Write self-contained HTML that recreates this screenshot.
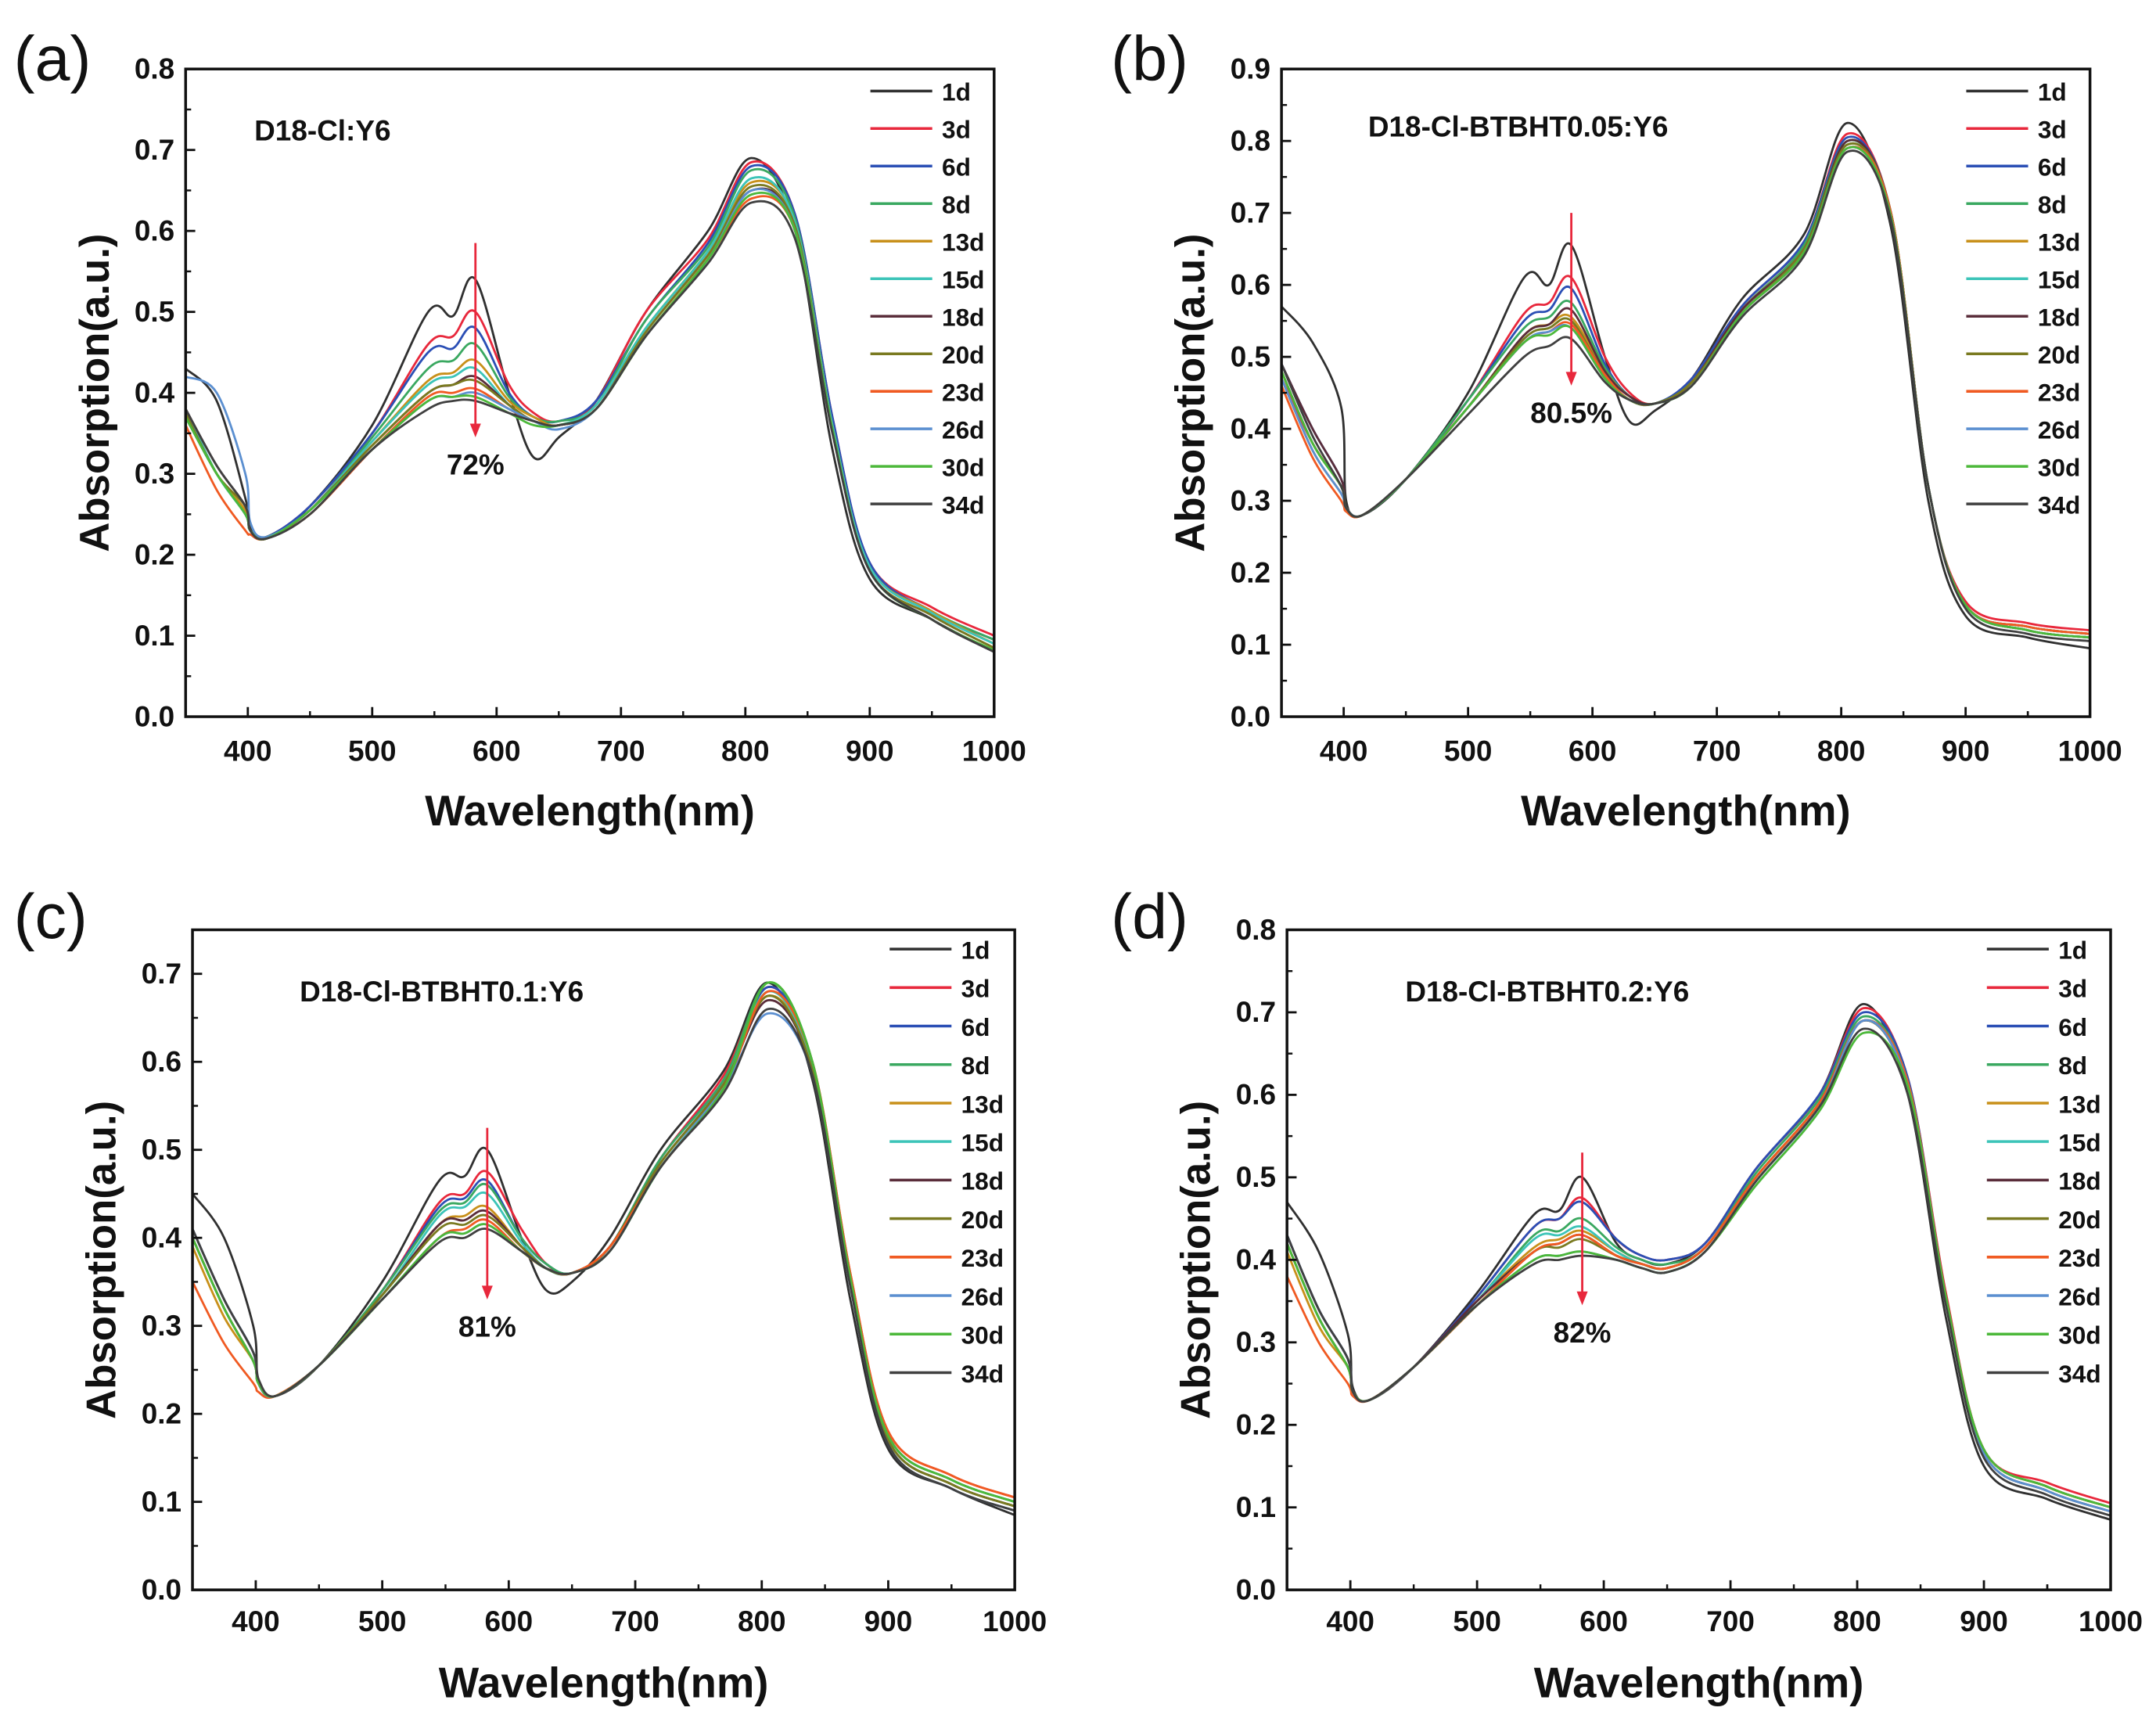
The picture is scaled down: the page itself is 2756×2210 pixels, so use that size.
<!DOCTYPE html>
<html><head><meta charset="utf-8"><style>
html,body{margin:0;padding:0;background:#fff}
svg{display:block}
text{font-family:"Liberation Sans",Arial,sans-serif}
</style></head><body>
<svg id="fig" width="2756" height="2210" viewBox="0 0 1568 1257" xmlns="http://www.w3.org/2000/svg"></svg>
<script>
const wavelengths=[350,375,398,402,415,450,500,545,565,583,610,630,650,680,720,770,805,840,870,900,950,1000];
const seriesNames=["1d","3d","6d","8d","13d","15d","18d","20d","23d","26d","30d","34d"];
const seriesColors=["#303030","#e8283c","#2b4fb5","#3aa860","#c8901a","#3cc4b8","#5a2d3a","#7a7a20","#f05a22","#5b8fd0","#4cb83a","#404040"];
const xTicks=[400,500,600,700,800,900,1000];
const dataA=[
[.43,.39,.27,.235,.222,.26,.36,.50,.495,.54,.40,.32,.345,.39,.50,.60,.69,.60,.33,.17,.12,.08],
[.37,.30,.25,.23,.222,.26,.35,.46,.47,.50,.41,.375,.365,.39,.50,.59,.685,.62,.37,.19,.135,.10],
[.37,.30,.25,.23,.222,.26,.35,.45,.455,.48,.40,.37,.365,.39,.49,.585,.68,.62,.37,.19,.13,.095],
[.37,.30,.25,.23,.222,.255,.345,.43,.44,.46,.395,.37,.365,.385,.49,.58,.675,.615,.36,.185,.13,.095],
[.38,.30,.255,.23,.22,.255,.34,.415,.425,.44,.39,.37,.36,.385,.48,.575,.66,.61,.36,.185,.13,.09],
[.38,.30,.25,.23,.22,.255,.34,.41,.42,.43,.385,.365,.36,.385,.48,.575,.665,.61,.36,.185,.128,.09],
[.38,.31,.26,.23,.22,.255,.335,.40,.41,.42,.385,.365,.36,.38,.475,.57,.65,.605,.355,.18,.125,.085],
[.375,.30,.26,.23,.22,.255,.335,.40,.41,.415,.385,.365,.36,.38,.475,.57,.655,.605,.355,.18,.125,.085],
[.36,.28,.23,.225,.22,.25,.33,.395,.40,.405,.38,.365,.36,.38,.47,.565,.64,.60,.355,.18,.12,.08],
[.42,.40,.30,.24,.222,.255,.33,.39,.395,.40,.38,.365,.355,.38,.47,.565,.65,.60,.355,.18,.12,.08],
[.37,.30,.25,.23,.22,.255,.33,.39,.395,.395,.375,.36,.36,.38,.47,.565,.645,.60,.355,.18,.12,.082],
[.38,.31,.26,.23,.22,.25,.33,.38,.39,.39,.375,.365,.36,.38,.47,.56,.635,.59,.35,.18,.12,.08]];
const dataB=[
[.57,.52,.43,.30,.28,.33,.45,.61,.60,.655,.50,.41,.425,.47,.58,.67,.825,.68,.30,.14,.11,.095],
[.47,.38,.32,.29,.28,.33,.44,.56,.575,.61,.50,.45,.435,.47,.57,.66,.81,.70,.32,.16,.13,.12],
[.49,.40,.33,.29,.28,.33,.44,.55,.565,.595,.49,.445,.435,.47,.57,.66,.805,.70,.32,.155,.125,.115],
[.48,.38,.32,.29,.28,.33,.44,.54,.555,.575,.485,.445,.435,.465,.565,.655,.80,.70,.32,.155,.125,.115],
[.47,.37,.31,.29,.28,.33,.43,.53,.545,.555,.48,.445,.435,.465,.565,.65,.795,.70,.32,.155,.125,.115],
[.48,.38,.32,.29,.28,.33,.43,.525,.54,.55,.475,.44,.435,.465,.56,.65,.795,.70,.32,.155,.125,.115],
[.49,.40,.33,.29,.28,.33,.43,.53,.545,.565,.48,.445,.435,.465,.565,.65,.80,.70,.32,.155,.12,.11],
[.48,.38,.32,.29,.28,.33,.43,.525,.54,.55,.475,.44,.435,.465,.56,.65,.795,.70,.32,.155,.12,.11],
[.46,.36,.30,.285,.28,.33,.43,.52,.535,.545,.475,.44,.435,.46,.56,.645,.79,.70,.32,.155,.125,.115],
[.47,.37,.31,.29,.28,.33,.43,.52,.535,.54,.47,.44,.435,.46,.56,.645,.79,.695,.32,.155,.12,.11],
[.48,.38,.32,.29,.28,.33,.43,.52,.53,.54,.47,.44,.435,.46,.56,.645,.79,.695,.32,.155,.12,.11],
[.49,.39,.32,.29,.28,.33,.42,.50,.515,.525,.465,.44,.435,.46,.555,.64,.785,.69,.32,.15,.115,.105]];
const dataC=[
[.45,.40,.30,.24,.22,.255,.35,.465,.47,.50,.40,.34,.35,.40,.50,.59,.69,.58,.33,.16,.115,.085],
[.40,.32,.26,.235,.22,.255,.34,.44,.45,.475,.41,.37,.36,.39,.49,.585,.685,.60,.36,.18,.13,.105],
[.40,.32,.26,.235,.22,.255,.34,.435,.445,.465,.40,.37,.36,.39,.49,.58,.685,.60,.355,.175,.125,.10],
[.40,.32,.26,.235,.22,.255,.34,.43,.44,.46,.40,.37,.36,.39,.49,.58,.69,.60,.355,.175,.125,.10],
[.39,.31,.26,.235,.22,.255,.335,.415,.425,.435,.39,.365,.36,.39,.485,.575,.675,.595,.35,.17,.12,.095],
[.40,.32,.26,.235,.22,.255,.335,.425,.435,.45,.395,.365,.36,.39,.485,.575,.68,.595,.35,.17,.12,.095],
[.41,.33,.27,.235,.22,.255,.335,.415,.42,.43,.39,.365,.36,.39,.485,.575,.67,.59,.35,.17,.12,.095],
[.40,.32,.26,.235,.22,.255,.335,.41,.415,.425,.39,.365,.36,.39,.485,.575,.675,.59,.35,.17,.12,.095],
[.35,.28,.235,.225,.22,.255,.33,.40,.41,.42,.385,.365,.36,.39,.48,.57,.68,.60,.36,.18,.13,.105],
[.41,.33,.27,.235,.22,.255,.33,.40,.405,.415,.385,.365,.36,.385,.48,.57,.655,.585,.345,.165,.115,.09],
[.40,.32,.26,.235,.22,.255,.33,.40,.405,.415,.385,.365,.36,.385,.48,.57,.69,.60,.355,.175,.125,.10],
[.41,.33,.27,.24,.22,.255,.33,.395,.40,.41,.385,.365,.36,.385,.48,.565,.66,.585,.345,.165,.115,.09]];
const dataD=[
[.47,.41,.31,.245,.23,.27,.36,.455,.46,.50,.42,.40,.395,.42,.51,.60,.71,.60,.33,.15,.11,.085],
[.42,.33,.27,.24,.23,.27,.355,.44,.45,.475,.425,.405,.40,.42,.51,.60,.705,.62,.36,.17,.13,.105],
[.43,.34,.28,.24,.23,.27,.355,.44,.45,.47,.425,.405,.40,.42,.51,.60,.70,.62,.355,.17,.125,.10],
[.42,.33,.27,.24,.23,.27,.35,.43,.435,.45,.415,.40,.395,.415,.505,.595,.695,.615,.355,.17,.125,.10],
[.41,.32,.27,.24,.23,.27,.35,.415,.425,.435,.41,.395,.39,.415,.50,.59,.69,.615,.355,.17,.125,.10],
[.42,.33,.27,.24,.23,.27,.35,.425,.43,.44,.41,.395,.39,.415,.50,.59,.69,.615,.355,.17,.125,.10],
[.43,.34,.28,.24,.23,.27,.35,.41,.42,.43,.405,.395,.39,.415,.50,.59,.69,.61,.35,.165,.12,.095],
[.42,.33,.27,.24,.23,.27,.345,.41,.415,.425,.405,.395,.39,.415,.50,.59,.69,.61,.35,.165,.12,.095],
[.38,.30,.25,.235,.23,.27,.345,.41,.42,.43,.405,.395,.39,.415,.50,.59,.69,.615,.355,.17,.125,.10],
[.43,.34,.28,.24,.23,.27,.345,.40,.405,.41,.40,.39,.385,.41,.495,.585,.69,.61,.35,.165,.12,.095],
[.42,.33,.27,.24,.23,.27,.345,.40,.405,.41,.40,.39,.385,.41,.49,.58,.675,.61,.355,.17,.125,.10],
[.43,.34,.28,.24,.23,.27,.345,.395,.40,.405,.40,.39,.385,.41,.495,.585,.68,.60,.345,.16,.115,.09]];
const panelLabels=["(a)","(b)","(c)","(d)"];
const panelTitles=["D18-Cl:Y6","D18-Cl-BTBHT0.05:Y6","D18-Cl-BTBHT0.1:Y6","D18-Cl-BTBHT0.2:Y6"];
const percentLabels=["72%","80.5%","81%","82%"];
const yMaxes=[0.8,0.9,0.75,0.8];
const yTickSets=[[0,.1,.2,.3,.4,.5,.6,.7,.8],[0,.1,.2,.3,.4,.5,.6,.7,.8,.9],[0,.1,.2,.3,.4,.5,.6,.7],[0,.1,.2,.3,.4,.5,.6,.7,.8]];
const arrowTops=[0.585,0.70,0.525,0.53];
const arrowBottoms=[0.345,0.46,0.33,0.345];

const NS="http://www.w3.org/2000/svg";
const svg=document.getElementById('fig');
function el(tag,attrs,parent,txt){const e=document.createElementNS(NS,tag);for(const k in attrs)e.setAttribute(k,attrs[k]);if(txt!==undefined)e.textContent=txt;(parent||svg).appendChild(e);return e;}

const layouts=[
 {x0:135,x1:723,y0:50,y1:521,lx:10,ly:58,tx:185,ty:102,legX:633,legY:66,legDy:27.3,xtY:553,xlY:600},
 {x0:932,x1:1520,y0:50,y1:521,lx:808,ly:58,tx:995,ty:99,legX:1430,legY:66,legDy:27.3,xtY:553,xlY:600},
 {x0:140,x1:738,y0:676,y1:1156,lx:10,ly:682,tx:218,ty:728,legX:647,legY:690,legDy:28,xtY:1186,xlY:1234},
 {x0:936,x1:1535,y0:676,y1:1156,lx:808,ly:682,tx:1022,ty:728,legX:1445,legY:690,legDy:28,xtY:1186,xlY:1234}];
const datasets=[dataA,dataB,dataC,dataD];

function smoothPath(pts){
 let d="M"+pts[0][0].toFixed(2)+","+pts[0][1].toFixed(2);
 for(let i=0;i<pts.length-1;i++){
  const p0=pts[Math.max(0,i-1)],p1=pts[i],p2=pts[i+1],p3=pts[Math.min(pts.length-1,i+2)];
  const c1x=p1[0]+(p2[0]-p0[0])/6,c1y=p1[1]+(p2[1]-p0[1])/6;
  const c2x=p2[0]-(p3[0]-p1[0])/6,c2y=p2[1]-(p3[1]-p1[1])/6;
  d+=" C"+c1x.toFixed(2)+","+c1y.toFixed(2)+" "+c2x.toFixed(2)+","+c2y.toFixed(2)+" "+p2[0].toFixed(2)+","+p2[1].toFixed(2);
 }
 return d;
}

layouts.forEach((L,pi)=>{
 const ymax=yMaxes[pi];
 const xs=v=>L.x0+(v-350)/(1000-350)*(L.x1-L.x0);
 const ys=v=>L.y1-v/ymax*(L.y1-L.y0);
 const g=el('g',{});
 
 
 const pl=el('text',{x:L.lx,y:L.ly,'font-size':46,fill:'#111'},g,panelLabels[pi]);
 
 
 const cg=el('g',{},g);
 
 
 datasets[pi].forEach((arr,si)=>{
  const pts=arr.map((v,i)=>[xs(wavelengths[i]),ys(v)]);
  const p=el('path',{d:smoothPath(pts),fill:'none',stroke:seriesColors[si],'stroke-width':1.6},cg);
  
  
 });
 const fr=el('rect',{x:L.x0,y:L.y0,width:L.x1-L.x0,height:L.y1-L.y0,fill:'none',stroke:'#111','stroke-width':2},g);
 
 
 xTicks.forEach(t=>{
  const x=xs(t);
  el('line',{x1:x,x2:x,y1:L.y1,y2:L.y1-7,stroke:'#111','stroke-width':1.6},g);
  const mx=xs(t-50);
  if(t-50>=350) el('line',{x1:mx,x2:mx,y1:L.y1,y2:L.y1-4,stroke:'#111','stroke-width':1.4},g);
  const tl=el('text',{x:x,y:L.xtY,'font-size':21,'font-weight':'bold','text-anchor':'middle',fill:'#111'},g,String(t));
  
  
 });
 el('line',{x1:xs(950),x2:xs(950),y1:L.y1,y2:L.y1-4,stroke:'#111','stroke-width':1.4},g);
 yTickSets[pi].forEach(t=>{
  const y=ys(t);
  el('line',{x1:L.x0,x2:L.x0+7,y1:y,y2:y,stroke:'#111','stroke-width':1.6},g);
  const my=ys(t+0.05);
  if(t+0.05<=ymax+1e-9) el('line',{x1:L.x0,x2:L.x0+4,y1:my,y2:my,stroke:'#111','stroke-width':1.4},g);
  const tl=el('text',{x:L.x0-8,y:y+7,'font-size':21,'font-weight':'bold','text-anchor':'end',fill:'#111'},g,t.toFixed(1));
  
  
 });
 const xl=el('text',{x:(L.x0+L.x1)/2,y:L.xlY,'font-size':31,'font-weight':'bold','text-anchor':'middle',fill:'#111'},g,'Wavelength(nm)');
 
 
 const cy=(L.y0+L.y1)/2;
 const yl=el('text',{x:0,y:0,'font-size':30,'font-weight':'bold','text-anchor':'middle',fill:'#111',transform:`translate(${L.x0-56},${cy}) rotate(-90)`},g,'Absorption(a.u.)');
 
 
 const tt=el('text',{x:L.tx,y:L.ty,'font-size':21,'font-weight':'bold',fill:'#111'},g,panelTitles[pi]);
 
 
 const ax=xs(583);
 const ag=el('g',{},g);
 
 
 const ya=ys(arrowTops[pi]),yb=ys(arrowBottoms[pi]);
 el('line',{x1:ax,x2:ax,y1:ya,y2:yb-8,stroke:'#e8283c','stroke-width':1.6},ag);
 el('polygon',{points:`${ax-4},${yb-10} ${ax+4},${yb-10} ${ax},${yb}`,fill:'#e8283c'},ag);
 const pc=el('text',{x:ax,y:yb+27,'font-size':21,'font-weight':'bold','text-anchor':'middle',fill:'#111'},g,percentLabels[pi]);
 
 
 const lg=el('g',{},g);
 
 
 seriesNames.forEach((n,si)=>{
  const y=L.legY+si*L.legDy;
  const e=el('g',{},lg);
  
  
  el('line',{x1:L.legX,x2:L.legX+45,y1:y,y2:y,stroke:seriesColors[si],'stroke-width':2},e);
  el('text',{x:L.legX+52,y:y+7,'font-size':18,'font-weight':'bold',fill:'#111'},e,n);
 });
});
</script>
</body></html>
